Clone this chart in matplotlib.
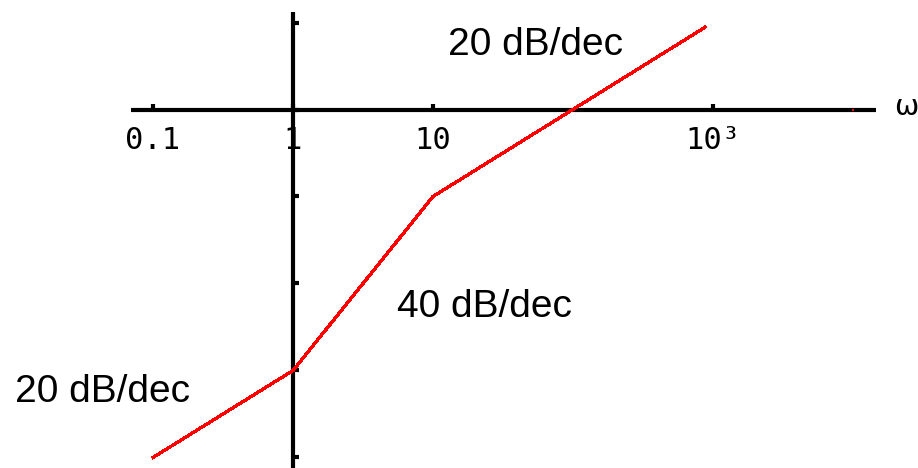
import matplotlib
matplotlib.use("Agg")
import matplotlib.pyplot as plt
from matplotlib import font_manager
import numpy as np

# asymptotic magnitude curve (dB) against angular frequency
omega = [0.1, 1, 10, 877]
mag_db = [-80, -60, -20, 18.9]

# stray plotted point on the frequency axis
dot_omega = [1e4]
dot_db = [0]

x_ticks = [0.1, 1, 10, 1000]
x_labels = ["0.1", "1", "10", "10\u00b3"]
y_ticks = [20, 0, -20, -40, -60, -80]

slope_labels = ["20 dB/dec", "40 dB/dec", "20 dB/dec"]

W, H = 918, 468
names = {f.name for f in font_manager.fontManager.ttflist}
narrow = "Liberation Sans Narrow" if "Liberation Sans Narrow" in names else "Liberation Sans"
label_size = 33 if narrow == "Liberation Sans Narrow" else 28

fig = plt.figure(figsize=(W / 100, H / 100), dpi=100)
ax = fig.add_axes([0, 0, 1, 1])
ax.set_xscale("log")

# 140 px per decade, omega=1 at x=293; 0 dB at y=109.5, 4.35 px per dB
px_dec, x1 = 140.0, 293.0
y0, px_db = 109.5, 4.35
ax.set_xlim(10 ** (-x1 / px_dec), 10 ** ((W - x1) / px_dec))
ax.set_ylim(-(H - y0) / px_db, y0 / px_db)

for s in ["top", "right"]:
    ax.spines[s].set_visible(False)
ax.spines["left"].set_position(("data", 1))
ax.spines["bottom"].set_position(("data", 0))
for s in ["left", "bottom"]:
    ax.spines[s].set_linewidth(3.0)
    ax.spines[s].set_capstyle("butt")
ax.spines["left"].set_bounds(-(H - y0) / px_db, (y0 - 12) / px_db)
ax.spines["bottom"].set_bounds(10 ** ((131 - x1) / px_dec), 10 ** ((876 - x1) / px_dec))

ax.set_xticks(x_ticks)
ax.set_xticklabels(x_labels, family="DejaVu Sans Mono", fontsize=22)
ax.xaxis.set_minor_locator(matplotlib.ticker.NullLocator())
ax.tick_params(axis="x", direction="in", length=4, width=3, pad=12)
ax.set_yticks(y_ticks)
ax.set_yticklabels([])
ax.tick_params(axis="y", direction="in", length=4, width=3)

ax.plot(omega, mag_db, color="#ff0000", lw=1.6, antialiased=False, zorder=3)
ax.plot(dot_omega, dot_db, "s", color="#ff0000", ms=2, mew=0, zorder=3)

# slope annotations, placed in pixel positions (left, baseline)
for txt, (px, py) in zip(slope_labels, [(448, 55), (397, 317), (15, 402)]):
    fig.text(px / W, 1 - py / H, txt, family=narrow, fontsize=label_size,
             ha="left", va="baseline")

fig.text(894 / W, 1 - 115 / H, "\u03c9", family="DejaVu Sans", fontsize=21,
         ha="left", va="baseline")

fig.savefig("out.png", dpi=100)
